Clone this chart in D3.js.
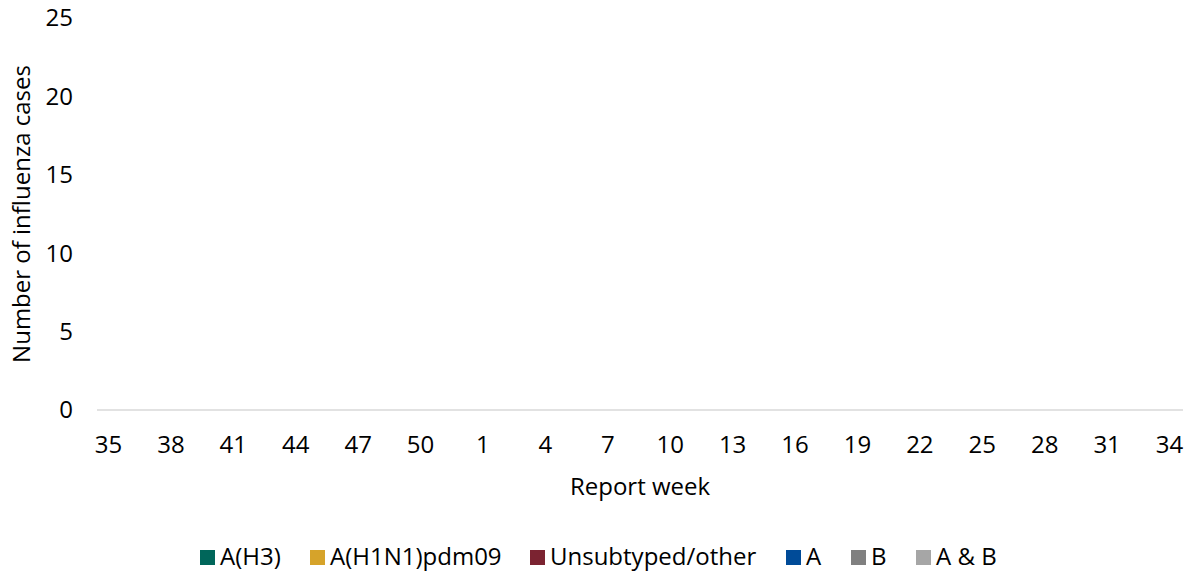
<!DOCTYPE html>
<html><head><meta charset="utf-8">
<script src="https://cdn.jsdelivr.net/npm/d3@7"></script>
<style>body{margin:0;background:#fff}svg{display:block}text{font-family:"Open Sans","Noto Sans",sans-serif;fill:#000}</style>
</head><body><svg id="c" width="1197" height="575"></svg>
<script>
const weeks = [35,36,37,38,39,40,41,42,43,44,45,46,47,48,49,50,51,52,1,2,3,4,5,6,7,8,9,10,11,12,13,14,15,16,17,18,19,20,21,22,23,24,25,26,27,28,29,30,31,32,33,34];
const seriesNames = ["A(H3)","A(H1N1)pdm09","Unsubtyped/other","A","B","A & B"];
const colors = ["#00665A","#D6A32A","#7B2331","#004B98","#808080","#A6A6A6"];
const valH3 = [0,0,0,0,0,0,0,0,0,0,0,0,0,0,0,0,0,0,0,0,0,0,0,0,0,0,0,0,0,0,0,0,0,0,0,0,0,0,0,0,0,0,0,0,0,0,0,0,0,0,0,0];
const valH1N1 = [0,0,0,0,0,0,0,0,0,0,0,0,0,0,0,0,0,0,0,0,0,0,0,0,0,0,0,0,0,0,0,0,0,0,0,0,0,0,0,0,0,0,0,0,0,0,0,0,0,0,0,0];
const valUnsub = [0,0,0,0,0,0,0,0,0,0,0,0,0,0,0,0,0,0,0,0,0,0,0,0,0,0,0,0,0,0,0,0,0,0,0,0,0,0,0,0,0,0,0,0,0,0,0,0,0,0,0,0];
const valA = [0,0,0,0,0,0,0,0,0,0,0,0,0,0,0,0,0,0,0,0,0,0,0,0,0,0,0,0,0,0,0,0,0,0,0,0,0,0,0,0,0,0,0,0,0,0,0,0,0,0,0,0];
const valB = [0,0,0,0,0,0,0,0,0,0,0,0,0,0,0,0,0,0,0,0,0,0,0,0,0,0,0,0,0,0,0,0,0,0,0,0,0,0,0,0,0,0,0,0,0,0,0,0,0,0,0,0];
const valAB = [0,0,0,0,0,0,0,0,0,0,0,0,0,0,0,0,0,0,0,0,0,0,0,0,0,0,0,0,0,0,0,0,0,0,0,0,0,0,0,0,0,0,0,0,0,0,0,0,0,0,0,0];
const yTicks = [0,5,10,15,20,25];
const tickWeeks = [35,38,41,44,47,50,1,4,7,10,13,16,19,22,25,28,31,34];

const FS = 24;
const svg = d3.select("#c");
const x = d3.scaleBand().domain(weeks).range([97,1183]).padding(0.2);
const y = d3.scaleLinear().domain([0,25]).range([410,18]);

const rows = weeks.map((w,i)=>({week:w,"A(H3)":valH3[i],"A(H1N1)pdm09":valH1N1[i],"Unsubtyped/other":valUnsub[i],"A":valA[i],"B":valB[i],"A & B":valAB[i]}));
const stacked = d3.stack().keys(seriesNames)(rows);

svg.append("g").selectAll("text").data(yTicks).join("text")
  .attr("x",73).attr("y",d=>y(d)).attr("dy","0.35em").attr("text-anchor","end")
  .attr("font-size",FS).text(d=>d);

svg.append("g").selectAll("g").data(stacked).join("g").attr("fill",(d,i)=>colors[i])
  .selectAll("rect").data(d=>d).join("rect")
  .attr("x",d=>x(d.data.week)).attr("width",x.bandwidth())
  .attr("y",d=>y(d[1])).attr("height",d=>y(d[0])-y(d[1]));

svg.append("line").attr("x1",97).attr("x2",1183).attr("y1",y(0)).attr("y2",y(0))
  .attr("stroke","#D9D9D9").attr("stroke-width",1.5);

svg.append("g").selectAll("text").data(tickWeeks).join("text")
  .attr("x",d=>x(d)+x.bandwidth()/2-1).attr("y",445).attr("dy","0.35em")
  .attr("text-anchor","middle").attr("font-size",FS).text(d=>d);

svg.append("text").attr("x",640).attr("y",487).attr("dy","0.35em").attr("text-anchor","middle")
  .attr("font-size",FS).text("Report week");
svg.append("text").attr("transform","translate(22,214) rotate(-90)").attr("dy","0.35em")
  .attr("text-anchor","middle").attr("font-size",FS).text("Number of influenza cases");

const legX = [200,310,530,786,851,916];
const lg = svg.append("g").selectAll("g").data(seriesNames).join("g")
  .attr("transform",(d,i)=>`translate(${legX[i]},557)`);
lg.append("rect").attr("x",0).attr("y",-7).attr("width",15).attr("height",15).attr("fill",(d,i)=>colors[i]);
lg.append("text").attr("x",20).attr("dy","0.35em").attr("font-size",FS).text(d=>d);
</script></body></html>
